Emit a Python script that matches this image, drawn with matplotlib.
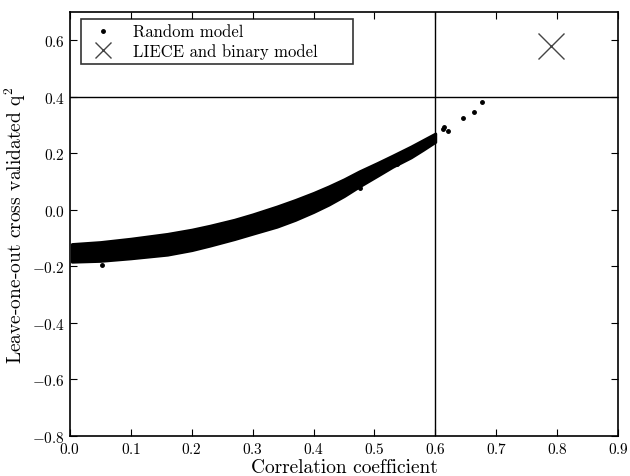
import matplotlib
matplotlib.use('Agg')
import matplotlib.pyplot as plt

plt.rcParams['font.family'] = ['cmr10', 'DejaVu Serif']
plt.rcParams['mathtext.fontset'] = 'cm'
plt.rcParams['axes.formatter.use_mathtext'] = True

# dense cloud of random models, outlined by its lower/upper edge
band_x = [0.003, 0.05, 0.10, 0.16, 0.20, 0.23, 0.27, 0.30, 0.34, 0.37, 0.40,
          0.425, 0.45, 0.475, 0.505, 0.53, 0.56, 0.58, 0.60]
band_lo = [-0.184, -0.181, -0.172, -0.159, -0.143, -0.127, -0.104, -0.085, -0.060, -0.036, -0.008,
           0.018, 0.048, 0.082, 0.120, 0.152, 0.185, 0.212, 0.240]
band_hi = [-0.121, -0.114, -0.102, -0.085, -0.070, -0.056, -0.035, -0.016, 0.012, 0.035, 0.060,
           0.083, 0.108, 0.136, 0.166, 0.192, 0.224, 0.247, 0.270]

# isolated random-model points outside the dense band
rand_x = [0.052, 0.477, 0.537, 0.548, 0.613, 0.614, 0.620, 0.645, 0.663, 0.677]
rand_y = [-0.197, 0.078, 0.162, 0.180, 0.284, 0.294, 0.277, 0.323, 0.347, 0.382]

# LIECE and binary model
liece_x = [0.79]
liece_y = [0.58]

fig = plt.figure(figsize=(6.3, 4.77), dpi=100)
ax = fig.add_axes([0.111, 0.084, 0.870, 0.889])

ax.fill_between(band_x, band_lo, band_hi, color='black', lw=2, edgecolor='black')
ax.plot(rand_x, rand_y, 'k.', ms=5, label='Random model')
ax.plot(liece_x, liece_y, 'x', color='#444444', ms=19, mew=1.0,
        label='LIECE and binary model')

ax.axhline(0.4, color='black', lw=1)
ax.axvline(0.6, color='black', lw=1)

ax.set_xlim(0, 0.9)
ax.set_ylim(-0.8, 0.7)
ax.set_xticks([0.0, 0.1, 0.2, 0.3, 0.4, 0.5, 0.6, 0.7, 0.8, 0.9])
ax.set_yticks([-0.8, -0.6, -0.4, -0.2, 0.0, 0.2, 0.4, 0.6])
ax.tick_params(direction='in', top=True, right=True, length=5, labelsize=11)
for s in ax.spines.values():
    s.set_linewidth(1.2)

ax.set_xlabel('Correlation coefficient', fontsize=14, labelpad=2)
ax.set_ylabel('Leave-one-out cross validated q$^2$', fontsize=14, labelpad=3)

leg = ax.legend(loc='upper left', bbox_to_anchor=(0.02, 0.0, 0.496, 0.983), mode='expand',
                borderaxespad=0, fancybox=False, edgecolor='black', fontsize=12,
                numpoints=1, handletextpad=0.8, borderpad=0.3, labelspacing=0.2)
leg.get_frame().set_linewidth(1.2)
leg.legend_handles[1].set_markersize(11)

fig.savefig('out.png', dpi=100, facecolor='white')
